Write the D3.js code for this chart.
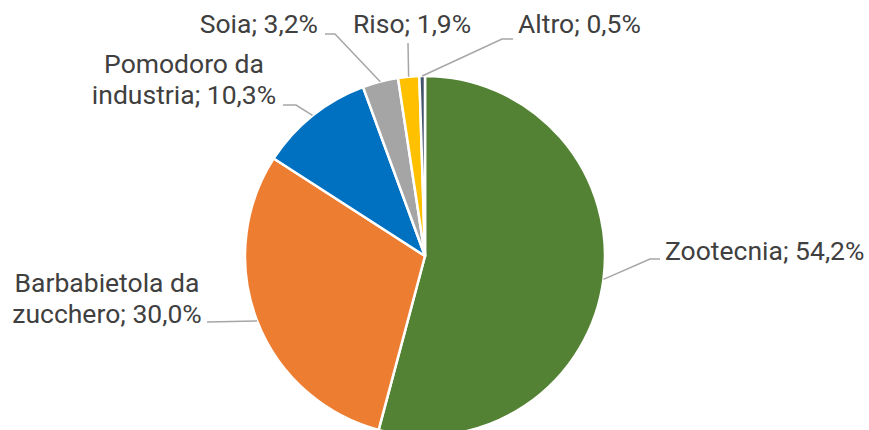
<!DOCTYPE html>
<html>
<head>
<meta charset="utf-8">
<script src="https://cdn.jsdelivr.net/npm/d3@7"></script>
<style>
  html, body { margin: 0; padding: 0; background: #fff; }
  svg { display: block; font-family: Roboto, "Noto Sans", sans-serif; }
</style>
</head>
<body>
<div id="chart"></div>
<script>
// data
var categories = ['Zootecnia', 'Barbabietola da zucchero', 'Pomodoro da industria', 'Soia', 'Riso', 'Altro'];
var values = [54.2, 30.0, 10.3, 3.2, 1.9, 0.5];
var colors = ['#548235', '#ED7D31', '#0070C0', '#A5A5A5', '#FFC000', '#44546A'];
var labelLines = [
  ['Zootecnia; 54,2%'],
  ['Barbabietola da', 'zucchero; 30,0%'],
  ['Pomodoro da', 'industria; 10,3%'],
  ['Soia; 3,2%'],
  ['Riso; 1,9%'],
  ['Altro; 0,5%']
];

var width = 869;
var height = 430;
var cx = 425, cy = 256, radius = 180;

// label layout: text anchor point (first baseline), anchor, leader attach point, elbow offset
var labelLayout = [
  { x: 665, y: 260, anchor: 'start', ax: 660, ay: 259, elbow: -10 },
  { x: 107, y: 292, anchor: 'middle', ax: 207, ay: 322, elbow: 0 },
  { x: 184, y: 73, anchor: 'middle', ax: 283, ay: 105, elbow: 13 },
  { x: 318, y: 33, anchor: 'end', ax: 325, ay: 34, elbow: 10 },
  { x: 353, y: 33, anchor: 'start', ax: 408, ay: 43, elbow: 0 },
  { x: 518, y: 33, anchor: 'start', ax: 513, ay: 39, elbow: -11 }
];

var svg = d3.select('#chart')
  .append('svg')
  .attr('width', width)
  .attr('height', height);

svg.append('rect')
  .attr('width', width)
  .attr('height', height)
  .attr('fill', '#fff');

var data = categories.map(function (c, i) {
  return { name: c, value: values[i], color: colors[i], lines: labelLines[i], layout: labelLayout[i] };
});

var pie = d3.pie()
  .sort(null)
  .value(function (d) { return d.value; });

var arc = d3.arc()
  .innerRadius(0)
  .outerRadius(radius);

var arcs = pie(data);

var graph = svg.append('g')
  .attr('transform', 'translate(' + cx + ',' + cy + ')');

graph.selectAll('path')
  .data(arcs)
  .enter()
  .append('path')
  .attr('d', arc)
  .attr('fill', function (d) { return d.data.color; })
  .attr('stroke', '#fff')
  .attr('stroke-width', 2.5)
  .attr('stroke-linejoin', 'round');

// leader lines
svg.append('g')
  .selectAll('polyline')
  .data(arcs)
  .enter()
  .append('polyline')
  .attr('points', function (d) {
    var mid = (d.startAngle + d.endAngle) / 2;
    var sx = cx + radius * Math.sin(mid);
    var sy = cy - radius * Math.cos(mid);
    var L = d.data.layout;
    var pts = [[sx, sy]];
    if (L.elbow !== 0) pts.push([L.ax + L.elbow, L.ay]);
    pts.push([L.ax, L.ay]);
    return pts.map(function (p) { return p.join(','); }).join(' ');
  })
  .attr('fill', 'none')
  .attr('stroke', '#A6A6A6')
  .attr('stroke-width', 1.5);

// labels
var labels = svg.append('g')
  .selectAll('text')
  .data(data)
  .enter()
  .append('text')
  .attr('x', function (d) { return d.layout.x; })
  .attr('y', function (d) { return d.layout.y; })
  .attr('text-anchor', function (d) { return d.layout.anchor; })
  .attr('fill', '#404040')
  .style('font-size', '26.5px');

labels.selectAll('tspan')
  .data(function (d) { return d.lines.map(function (l) { return { text: l, x: d.layout.x }; }); })
  .enter()
  .append('tspan')
  .attr('x', function (d) { return d.x; })
  .attr('dy', function (d, i) { return i === 0 ? 0 : 31; })
  .text(function (d) { return d.text; });
</script>
</body>
</html>
